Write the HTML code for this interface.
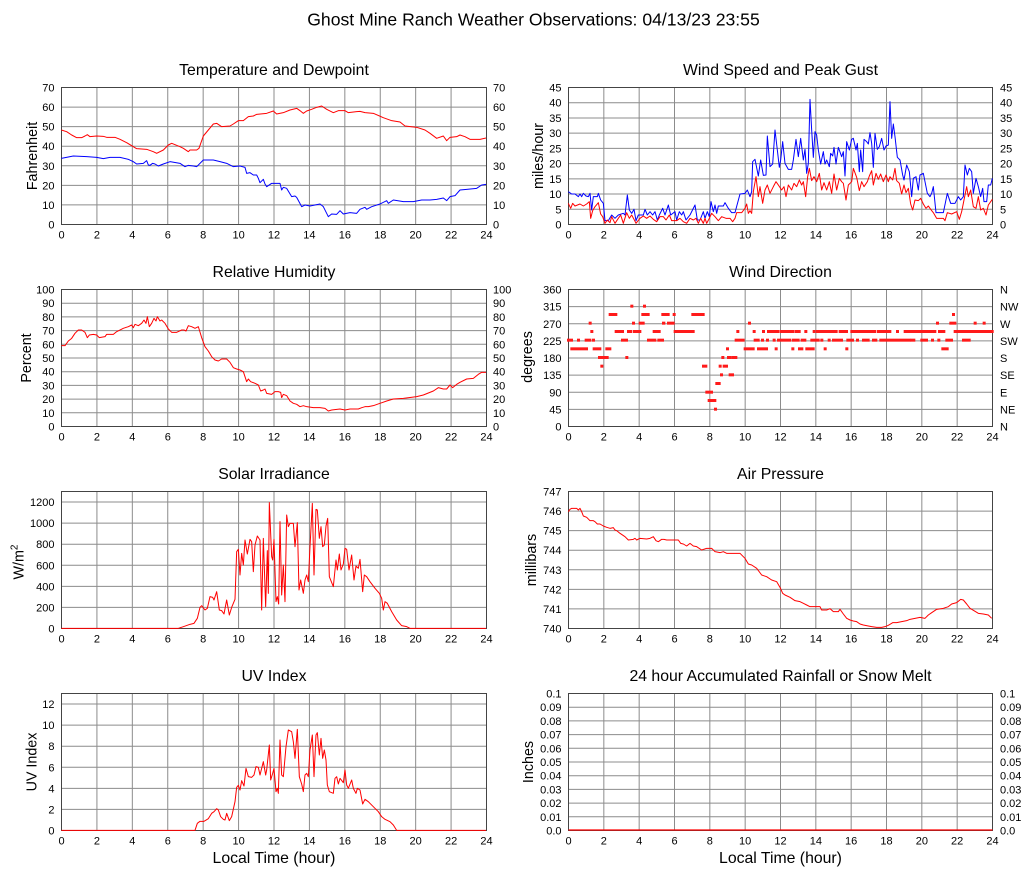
<!DOCTYPE html>
<html><head><meta charset="utf-8"><style>
html,body{margin:0;padding:0;background:#fff;}
svg{display:block;font-family:"Liberation Sans",Arial,sans-serif;}
.tk{font-size:11px;fill:#000;}
.ttl{font-size:15.8px;fill:#000;text-anchor:middle;}
.yl{font-size:14.3px;fill:#000;text-anchor:middle;}
.g{stroke:#8c8c8c;stroke-width:1;fill:none;}
.bx{stroke:#444;stroke-width:1;fill:none;}
.d{fill:none;stroke-width:1;vector-effect:non-scaling-stroke;stroke-linejoin:round;}
</style></head><body>
<svg width="1027" height="878" viewBox="0 0 1027 878" xmlns="http://www.w3.org/2000/svg">
<rect width="1027" height="878" fill="#fff"/>
<text x="533.5" y="25.7" style="font-size:17.6px" text-anchor="middle">Ghost Mine Ranch Weather Observations: 04/13/23 23:55</text>

<!-- ================= Row 0 Left: Temperature ================= -->
<text class="ttl" x="274" y="75">Temperature and Dewpoint</text>
<g class="g">
<path d="M96.92 87.5V224.5M132.33 87.5V224.5M167.75 87.5V224.5M203.17 87.5V224.5M238.58 87.5V224.5M274 87.5V224.5M309.42 87.5V224.5M344.83 87.5V224.5M380.25 87.5V224.5M415.67 87.5V224.5M451.08 87.5V224.5"/>
<path d="M61.5 204.93H486.5M61.5 185.36H486.5M61.5 165.79H486.5M61.5 146.21H486.5M61.5 126.64H486.5M61.5 107.07H486.5"/>
</g>
<rect class="bx" x="61.5" y="87.5" width="425" height="137"/>
<g class="tk" text-anchor="end">
<text x="54.5" y="228.5">0</text><text x="54.5" y="208.9">10</text><text x="54.5" y="189.4">20</text><text x="54.5" y="169.8">30</text><text x="54.5" y="150.2">40</text><text x="54.5" y="130.6">50</text><text x="54.5" y="111.1">60</text><text x="54.5" y="91.5">70</text>
</g>
<g class="tk" text-anchor="start">
<text x="493" y="228.5">0</text><text x="493" y="208.9">10</text><text x="493" y="189.4">20</text><text x="493" y="169.8">30</text><text x="493" y="150.2">40</text><text x="493" y="130.6">50</text><text x="493" y="111.1">60</text><text x="493" y="91.5">70</text>
</g>
<g class="tk" text-anchor="middle">
<text x="61.5" y="238.5">0</text><text x="96.92" y="238.5">2</text><text x="132.33" y="238.5">4</text><text x="167.75" y="238.5">6</text><text x="203.17" y="238.5">8</text><text x="238.58" y="238.5">10</text><text x="274" y="238.5">12</text><text x="309.42" y="238.5">14</text><text x="344.83" y="238.5">16</text><text x="380.25" y="238.5">18</text><text x="415.67" y="238.5">20</text><text x="451.08" y="238.5">22</text><text x="486.5" y="238.5">24</text>
</g>
<text class="yl" transform="translate(37,156) rotate(-90)">Fahrenheit</text>
<g transform="translate(0,50) scale(0.333333)">
<polyline class="d" stroke="#ff0000" points="184,240 200,245 215,255 230,263 245,263 255,258 262,254 270,260 290,258 310,259 320,262 345,262 360,268 380,278 400,290 410,296 440,298 460,305 470,310 490,300 505,285 515,280 540,290 550,295 565,305 570,300 590,300 597,295 610,258 625,240 640,222 650,220 665,230 690,228 700,222 715,212 730,212 745,200 760,198 770,193 800,190 820,183 830,192 850,188 870,180 890,175 900,182 910,190 920,183 935,178 950,172 965,168 980,178 1000,188 1015,182 1035,182 1045,188 1070,185 1080,184 1095,188 1120,190 1150,203 1175,212 1200,216 1215,228 1250,232 1275,240 1290,250 1310,265 1330,258 1340,272 1350,262 1370,260 1380,255 1395,260 1410,268 1440,268 1458,264"/>
<polyline class="d" stroke="#0000ff" points="184,325 220,318 260,320 290,322 310,326 330,322 360,322 385,328 400,335 410,342 430,340 440,332 445,345 450,346 458,340 465,342 475,348 490,342 510,335 540,340 555,350 565,346 580,348 590,350 610,330 640,330 660,335 680,340 700,350 720,348 735,352 740,370 750,368 760,375 770,375 775,385 780,398 790,388 795,402 800,410 815,400 840,400 845,420 850,412 860,415 875,440 885,438 890,442 905,470 915,465 930,468 945,465 960,462 970,470 985,500 995,492 1010,493 1020,482 1030,492 1050,488 1070,490 1080,478 1095,472 1100,478 1115,470 1140,462 1160,452 1165,460 1180,450 1210,455 1240,455 1265,450 1290,450 1310,448 1330,444 1340,452 1350,440 1365,437 1380,420 1400,418 1430,415 1445,405 1458,403"/>
</g>

<!-- ================= Row 0 Right: Wind Speed ================= -->
<text class="ttl" x="780.5" y="75">Wind Speed and Peak Gust</text>
<g class="g">
<path d="M603.83 87.5V224.5M639.17 87.5V224.5M674.5 87.5V224.5M709.83 87.5V224.5M745.17 87.5V224.5M780.5 87.5V224.5M815.83 87.5V224.5M851.17 87.5V224.5M886.5 87.5V224.5M921.83 87.5V224.5M957.17 87.5V224.5"/>
<path d="M568.5 209.28H992.5M568.5 194.06H992.5M568.5 178.83H992.5M568.5 163.61H992.5M568.5 148.39H992.5M568.5 133.17H992.5M568.5 117.94H992.5M568.5 102.72H992.5"/>
</g>
<rect class="bx" x="568.5" y="87.5" width="424" height="137"/>
<g class="tk" text-anchor="end">
<text x="561.5" y="228.5">0</text><text x="561.5" y="213.3">5</text><text x="561.5" y="198.1">10</text><text x="561.5" y="182.8">15</text><text x="561.5" y="167.6">20</text><text x="561.5" y="152.4">25</text><text x="561.5" y="137.2">30</text><text x="561.5" y="121.9">35</text><text x="561.5" y="106.7">40</text><text x="561.5" y="91.5">45</text>
</g>
<g class="tk" text-anchor="start">
<text x="1000" y="228.5">0</text><text x="1000" y="213.3">5</text><text x="1000" y="198.1">10</text><text x="1000" y="182.8">15</text><text x="1000" y="167.6">20</text><text x="1000" y="152.4">25</text><text x="1000" y="137.2">30</text><text x="1000" y="121.9">35</text><text x="1000" y="106.7">40</text><text x="1000" y="91.5">45</text>
</g>
<g class="tk" text-anchor="middle">
<text x="568.5" y="238.5">0</text><text x="603.83" y="238.5">2</text><text x="639.17" y="238.5">4</text><text x="674.5" y="238.5">6</text><text x="709.83" y="238.5">8</text><text x="745.17" y="238.5">10</text><text x="780.5" y="238.5">12</text><text x="815.83" y="238.5">14</text><text x="851.17" y="238.5">16</text><text x="886.5" y="238.5">18</text><text x="921.83" y="238.5">20</text><text x="957.17" y="238.5">22</text><text x="992.5" y="238.5">24</text>
</g>
<text class="yl" transform="translate(543,156) rotate(-90)">miles/hour</text>
<g transform="translate(510,50) scale(0.333333)">
<polyline class="d" stroke="#0000ff" points="175,425 185,432 195,432 205,440 210,432 215,440 220,430 228,438 235,440 240,430 245,480 250,440 262,440 265,430 272,450 280,460 285,512 295,512 305,495 315,505 325,495 340,490 345,495 352,435 358,480 365,490 372,478 378,512 385,495 400,495 405,478 412,495 420,485 428,495 435,485 442,510 448,495 458,475 465,495 475,465 482,495 495,485 500,510 508,485 515,495 520,485 528,510 540,495 555,465 562,510 570,510 580,485 585,505 592,485 598,500 603,455 610,485 615,465 620,490 625,468 640,468 645,458 655,475 665,488 675,488 690,432 705,430 712,420 720,440 725,425 728,335 735,328 745,378 752,330 760,376 768,375 772,258 780,350 788,342 795,240 802,300 808,352 812,330 818,275 825,340 835,358 845,358 850,330 858,268 865,320 872,265 880,330 885,298 890,370 895,340 900,148 905,240 910,322 915,245 920,255 925,300 932,342 940,305 945,342 950,330 958,350 962,310 968,318 972,292 978,342 985,292 995,320 1000,305 1005,378 1010,275 1018,300 1025,268 1030,265 1038,300 1042,280 1048,365 1052,300 1058,365 1062,268 1070,275 1075,282 1080,248 1085,280 1090,352 1095,250 1102,298 1108,290 1115,265 1122,300 1128,288 1135,285 1140,155 1145,265 1150,222 1155,260 1162,322 1170,330 1178,375 1182,390 1190,345 1198,365 1205,440 1210,385 1218,380 1225,420 1230,375 1240,370 1245,395 1252,430 1260,440 1265,430 1270,410 1278,488 1300,488 1312,430 1322,460 1335,460 1345,440 1352,450 1360,440 1365,345 1372,375 1378,355 1385,365 1390,430 1398,385 1405,410 1412,440 1418,415 1422,455 1430,455 1435,405 1442,405 1447,385"/>
<polyline class="d" stroke="#ff0000" points="175,460 182,475 188,460 195,468 210,462 220,468 230,462 238,455 242,505 248,482 255,470 265,458 272,492 278,500 285,520 292,510 300,518 305,500 315,520 325,505 332,495 340,520 350,488 358,505 365,495 372,508 378,520 390,505 400,498 410,505 420,498 430,508 440,515 450,500 460,500 468,510 478,495 485,512 500,512 510,505 520,515 530,520 540,505 550,510 558,505 565,520 572,505 580,520 585,505 590,520 598,505 605,490 615,500 625,512 635,500 648,505 660,505 668,515 675,505 680,488 695,488 705,475 710,462 715,490 720,482 725,490 730,425 738,380 745,440 750,410 758,460 765,420 772,405 780,430 790,410 798,395 805,405 815,420 822,410 828,440 835,405 845,420 852,400 860,410 868,390 875,405 880,395 887,440 893,380 898,355 905,392 912,380 920,395 928,370 935,420 942,398 950,420 958,395 965,430 972,372 980,420 988,385 995,395 1000,400 1008,450 1015,405 1025,395 1030,355 1040,382 1048,422 1055,395 1062,410 1072,395 1078,378 1085,362 1090,405 1098,370 1105,388 1112,372 1120,395 1128,375 1135,395 1140,380 1148,390 1155,355 1160,392 1168,400 1175,432 1182,405 1188,428 1195,415 1202,462 1208,480 1215,450 1225,452 1232,445 1240,462 1248,475 1255,468 1262,478 1270,488 1280,505 1300,505 1305,512 1312,488 1325,492 1340,485 1348,508 1355,485 1362,450 1370,410 1375,440 1382,420 1390,470 1398,475 1405,440 1412,480 1420,475 1428,495 1435,465 1447,448"/>
</g>

<!-- ================= Row 1 Left: RH ================= -->
<text class="ttl" x="274" y="277">Relative Humidity</text>
<g class="g">
<path d="M96.92 289.5V426.5M132.33 289.5V426.5M167.75 289.5V426.5M203.17 289.5V426.5M238.58 289.5V426.5M274 289.5V426.5M309.42 289.5V426.5M344.83 289.5V426.5M380.25 289.5V426.5M415.67 289.5V426.5M451.08 289.5V426.5"/>
<path d="M61.5 412.8H486.5M61.5 399.1H486.5M61.5 385.4H486.5M61.5 371.7H486.5M61.5 358H486.5M61.5 344.3H486.5M61.5 330.6H486.5M61.5 316.9H486.5M61.5 303.2H486.5"/>
</g>
<rect class="bx" x="61.5" y="289.5" width="425" height="137"/>
<g class="tk" text-anchor="end">
<text x="54.5" y="430.5">0</text><text x="54.5" y="416.8">10</text><text x="54.5" y="403.1">20</text><text x="54.5" y="389.4">30</text><text x="54.5" y="375.7">40</text><text x="54.5" y="362">50</text><text x="54.5" y="348.3">60</text><text x="54.5" y="334.6">70</text><text x="54.5" y="320.9">80</text><text x="54.5" y="307.2">90</text><text x="54.5" y="293.5">100</text>
</g>
<g class="tk" text-anchor="start">
<text x="493" y="430.5">0</text><text x="493" y="416.8">10</text><text x="493" y="403.1">20</text><text x="493" y="389.4">30</text><text x="493" y="375.7">40</text><text x="493" y="362">50</text><text x="493" y="348.3">60</text><text x="493" y="334.6">70</text><text x="493" y="320.9">80</text><text x="493" y="307.2">90</text><text x="493" y="293.5">100</text>
</g>
<g class="tk" text-anchor="middle">
<text x="61.5" y="440.5">0</text><text x="96.92" y="440.5">2</text><text x="132.33" y="440.5">4</text><text x="167.75" y="440.5">6</text><text x="203.17" y="440.5">8</text><text x="238.58" y="440.5">10</text><text x="274" y="440.5">12</text><text x="309.42" y="440.5">14</text><text x="344.83" y="440.5">16</text><text x="380.25" y="440.5">18</text><text x="415.67" y="440.5">20</text><text x="451.08" y="440.5">22</text><text x="486.5" y="440.5">24</text>
</g>
<text class="yl" transform="translate(31,358) rotate(-90)">Percent</text>
<g transform="translate(0,255) scale(0.333333)">
<polyline class="d" stroke="#ff0000" points="184,272 195,272 205,258 215,250 225,235 235,225 245,225 255,232 262,248 268,240 280,238 290,240 298,248 315,245 320,238 340,238 350,230 370,220 385,215 395,210 400,218 405,208 415,212 425,205 432,195 438,205 442,185 448,215 455,205 462,190 468,198 472,185 480,198 485,195 495,205 505,222 515,232 530,232 545,225 552,225 558,228 565,212 575,215 585,220 595,215 605,248 615,275 625,288 635,305 645,315 655,318 665,312 680,312 690,322 700,338 710,342 720,345 730,350 735,365 740,380 745,372 752,380 765,385 775,390 782,408 790,405 795,402 800,415 815,418 825,410 835,410 842,412 845,428 850,418 860,422 870,438 880,445 890,448 900,455 910,452 920,455 940,458 960,458 975,460 985,468 995,465 1020,462 1035,465 1050,462 1065,462 1075,462 1085,458 1095,455 1105,455 1120,452 1140,445 1160,438 1180,432 1210,430 1250,425 1270,420 1300,408 1315,398 1330,402 1340,402 1350,390 1358,398 1370,388 1380,382 1400,372 1420,370 1435,358 1445,352 1458,352"/>
</g>

<!-- ================= Row 1 Right: Wind Direction ================= -->
<text class="ttl" x="780.5" y="277">Wind Direction</text>
<g class="g">
<path d="M603.83 289.5V426.5M639.17 289.5V426.5M674.5 289.5V426.5M709.83 289.5V426.5M745.17 289.5V426.5M780.5 289.5V426.5M815.83 289.5V426.5M851.17 289.5V426.5M886.5 289.5V426.5M921.83 289.5V426.5M957.17 289.5V426.5"/>
<path d="M568.5 409.38H992.5M568.5 392.25H992.5M568.5 375.13H992.5M568.5 358H992.5M568.5 340.88H992.5M568.5 323.75H992.5M568.5 306.63H992.5"/>
</g>
<rect class="bx" x="568.5" y="289.5" width="424" height="137"/>
<g class="tk" text-anchor="end">
<text x="561.5" y="430.5">0</text><text x="561.5" y="413.4">45</text><text x="561.5" y="396.3">90</text><text x="561.5" y="379.1">135</text><text x="561.5" y="362">180</text><text x="561.5" y="344.9">225</text><text x="561.5" y="327.8">270</text><text x="561.5" y="310.6">315</text><text x="561.5" y="293.5">360</text>
</g>
<g class="tk" text-anchor="start">
<text x="1000" y="430.5">N</text><text x="1000" y="413.4">NE</text><text x="1000" y="396.3">E</text><text x="1000" y="379.1">SE</text><text x="1000" y="362">S</text><text x="1000" y="344.9">SW</text><text x="1000" y="327.8">W</text><text x="1000" y="310.6">NW</text><text x="1000" y="293.5">N</text>
</g>
<g class="tk" text-anchor="middle">
<text x="568.5" y="440.5">0</text><text x="603.83" y="440.5">2</text><text x="639.17" y="440.5">4</text><text x="674.5" y="440.5">6</text><text x="709.83" y="440.5">8</text><text x="745.17" y="440.5">10</text><text x="780.5" y="440.5">12</text><text x="815.83" y="440.5">14</text><text x="851.17" y="440.5">16</text><text x="886.5" y="440.5">18</text><text x="921.83" y="440.5">20</text><text x="957.17" y="440.5">22</text><text x="992.5" y="440.5">24</text>
</g>
<text class="yl" transform="translate(532,357) rotate(-90)">degrees</text>
<g transform="translate(510,280) scale(0.333333)" fill="#ff1a1a">
<rect x="171" y="176" width="18" height="9"/>
<rect x="181" y="202" width="53" height="9"/>
<rect x="201" y="176" width="9" height="9"/>
<rect x="224" y="176" width="20" height="9"/>
<rect x="236" y="125" width="9" height="9"/>
<rect x="241" y="150" width="9" height="9"/>
<rect x="246" y="176" width="9" height="9"/>
<rect x="248" y="202" width="26" height="9"/>
<rect x="264" y="228" width="32" height="9"/>
<rect x="271" y="254" width="9" height="9"/>
<rect x="286" y="202" width="18" height="9"/>
<rect x="296" y="99" width="26" height="9"/>
<rect x="314" y="150" width="28" height="9"/>
<rect x="333" y="176" width="21" height="9"/>
<rect x="346" y="228" width="9" height="9"/>
<rect x="351" y="150" width="15" height="9"/>
<rect x="361" y="74" width="9" height="9"/>
<rect x="366" y="125" width="9" height="9"/>
<rect x="368" y="150" width="26" height="9"/>
<rect x="386" y="125" width="18" height="9"/>
<rect x="399" y="74" width="9" height="9"/>
<rect x="394" y="99" width="25" height="9"/>
<rect x="411" y="176" width="28" height="9"/>
<rect x="428" y="150" width="24" height="9"/>
<rect x="442" y="176" width="20" height="9"/>
<rect x="454" y="99" width="25" height="9"/>
<rect x="456" y="125" width="10" height="9"/>
<rect x="471" y="125" width="23" height="9"/>
<rect x="488" y="99" width="9" height="9"/>
<rect x="491" y="150" width="63" height="9"/>
<rect x="544" y="99" width="40" height="9"/>
<rect x="576" y="254" width="16" height="9"/>
<rect x="586" y="332" width="23" height="9"/>
<rect x="593" y="357" width="26" height="9"/>
<rect x="612" y="383" width="9" height="9"/>
<rect x="616" y="306" width="16" height="9"/>
<rect x="626" y="254" width="9" height="9"/>
<rect x="630" y="280" width="9" height="9"/>
<rect x="634" y="228" width="9" height="9"/>
<rect x="638" y="254" width="16" height="9"/>
<rect x="648" y="202" width="9" height="9"/>
<rect x="651" y="228" width="13" height="9"/>
<rect x="656" y="280" width="16" height="9"/>
<rect x="664" y="228" width="18" height="9"/>
<rect x="674" y="176" width="30" height="9"/>
<rect x="679" y="150" width="9" height="9"/>
<rect x="701" y="202" width="33" height="9"/>
<rect x="714" y="125" width="9" height="9"/>
<rect x="728" y="150" width="9" height="9"/>
<rect x="731" y="176" width="18" height="9"/>
<rect x="741" y="202" width="18" height="9"/>
<rect x="753" y="176" width="9" height="9"/>
<rect x="756" y="150" width="9" height="9"/>
<rect x="759" y="202" width="15" height="9"/>
<rect x="768" y="176" width="9" height="9"/>
<rect x="771" y="150" width="28" height="9"/>
<rect x="788" y="176" width="9" height="9"/>
<rect x="794" y="202" width="9" height="9"/>
<rect x="798" y="150" width="9" height="9"/>
<rect x="801" y="176" width="43" height="9"/>
<rect x="808" y="150" width="44" height="9"/>
<rect x="844" y="202" width="9" height="9"/>
<rect x="846" y="176" width="23" height="9"/>
<rect x="853" y="150" width="19" height="9"/>
<rect x="864" y="202" width="16" height="9"/>
<rect x="872" y="176" width="17" height="9"/>
<rect x="883" y="150" width="9" height="9"/>
<rect x="886" y="202" width="28" height="9"/>
<rect x="901" y="176" width="28" height="9"/>
<rect x="908" y="150" width="9" height="9"/>
<rect x="918" y="150" width="58" height="9"/>
<rect x="931" y="176" width="9" height="9"/>
<rect x="941" y="202" width="9" height="9"/>
<rect x="953" y="176" width="9" height="9"/>
<rect x="966" y="176" width="33" height="9"/>
<rect x="974" y="150" width="9" height="9"/>
<rect x="986" y="150" width="28" height="9"/>
<rect x="1006" y="202" width="9" height="9"/>
<rect x="1009" y="176" width="23" height="9"/>
<rect x="1021" y="150" width="78" height="9"/>
<rect x="1038" y="176" width="9" height="9"/>
<rect x="1056" y="176" width="23" height="9"/>
<rect x="1086" y="176" width="16" height="9"/>
<rect x="1101" y="150" width="21" height="9"/>
<rect x="1108" y="176" width="94" height="9"/>
<rect x="1118" y="150" width="26" height="9"/>
<rect x="1158" y="150" width="9" height="9"/>
<rect x="1181" y="150" width="63" height="9"/>
<rect x="1201" y="176" width="15" height="9"/>
<rect x="1231" y="176" width="23" height="9"/>
<rect x="1241" y="150" width="38" height="9"/>
<rect x="1263" y="176" width="9" height="9"/>
<rect x="1278" y="125" width="9" height="9"/>
<rect x="1282" y="176" width="9" height="9"/>
<rect x="1284" y="150" width="22" height="9"/>
<rect x="1294" y="202" width="22" height="9"/>
<rect x="1306" y="176" width="23" height="9"/>
<rect x="1318" y="125" width="21" height="9"/>
<rect x="1326" y="99" width="9" height="9"/>
<rect x="1331" y="150" width="120" height="9"/>
<rect x="1356" y="176" width="26" height="9"/>
<rect x="1391" y="125" width="9" height="9"/>
<rect x="1418" y="125" width="9" height="9"/>
</g>

<!-- ================= Row 2 Left: Solar ================= -->
<text class="ttl" x="274" y="479">Solar Irradiance</text>
<g class="g">
<path d="M96.92 491.5V628.5M132.33 491.5V628.5M167.75 491.5V628.5M203.17 491.5V628.5M238.58 491.5V628.5M274 491.5V628.5M309.42 491.5V628.5M344.83 491.5V628.5M380.25 491.5V628.5M415.67 491.5V628.5M451.08 491.5V628.5"/>
<path d="M61.5 607.42H486.5M61.5 586.35H486.5M61.5 565.27H486.5M61.5 544.19H486.5M61.5 523.12H486.5M61.5 502.04H486.5"/>
</g>
<rect class="bx" x="61.5" y="491.5" width="425" height="137"/>
<g class="tk" text-anchor="end">
<text x="54.5" y="632.5">0</text><text x="54.5" y="611.4">200</text><text x="54.5" y="590.3">400</text><text x="54.5" y="569.3">600</text><text x="54.5" y="548.2">800</text><text x="54.5" y="527.1">1000</text><text x="54.5" y="506">1200</text>
</g>
<g class="tk" text-anchor="middle">
<text x="61.5" y="642.5">0</text><text x="96.92" y="642.5">2</text><text x="132.33" y="642.5">4</text><text x="167.75" y="642.5">6</text><text x="203.17" y="642.5">8</text><text x="238.58" y="642.5">10</text><text x="274" y="642.5">12</text><text x="309.42" y="642.5">14</text><text x="344.83" y="642.5">16</text><text x="380.25" y="642.5">18</text><text x="415.67" y="642.5">20</text><text x="451.08" y="642.5">22</text><text x="486.5" y="642.5">24</text>
</g>
<text class="yl" transform="translate(23.5,562) rotate(-90)">W/m<tspan style="font-size:10px" dy="-6">2</tspan></text>
<g transform="translate(0,460) scale(0.333333)">
<polyline class="d" stroke="#ff0000" points="184,505 535,505 550,500 570,493 582,490 592,475 600,442 605,437 615,450 622,445 630,410 638,412 642,420 650,395 658,450 665,452 672,462 680,420 688,465 695,442 705,418 710,275 715,268 720,345 725,280 730,315 735,240 742,282 750,238 755,245 760,335 765,255 772,228 780,240 785,450 790,235 797,440 802,272 805,400 808,128 815,290 818,300 822,238 828,425 832,410 836,432 840,185 845,405 850,315 855,425 860,165 865,200 870,190 880,190 885,260 892,188 897,390 902,360 910,400 915,360 920,345 925,365 930,260 937,130 942,345 948,148 952,150 958,235 963,200 968,260 973,255 978,198 983,175 988,350 1000,380 1008,300 1012,330 1018,282 1023,330 1030,312 1035,265 1040,268 1047,330 1055,285 1062,360 1068,318 1075,325 1080,298 1088,395 1093,345 1100,350 1110,365 1125,385 1138,400 1145,415 1150,450 1155,425 1162,430 1175,455 1190,480 1205,497 1220,500 1230,505 1458,505"/>
</g>

<!-- ================= Row 2 Right: Pressure ================= -->
<text class="ttl" x="780.5" y="479">Air Pressure</text>
<g class="g">
<path d="M603.83 491.5V628.5M639.17 491.5V628.5M674.5 491.5V628.5M709.83 491.5V628.5M745.17 491.5V628.5M780.5 491.5V628.5M815.83 491.5V628.5M851.17 491.5V628.5M886.5 491.5V628.5M921.83 491.5V628.5M957.17 491.5V628.5"/>
<path d="M568.5 608.93H992.5M568.5 589.36H992.5M568.5 569.79H992.5M568.5 550.21H992.5M568.5 530.64H992.5M568.5 511.07H992.5"/>
</g>
<rect class="bx" x="568.5" y="491.5" width="424" height="137"/>
<g class="tk" text-anchor="end">
<text x="561.5" y="632.5">740</text><text x="561.5" y="612.9">741</text><text x="561.5" y="593.4">742</text><text x="561.5" y="573.8">743</text><text x="561.5" y="554.2">744</text><text x="561.5" y="534.6">745</text><text x="561.5" y="515.1">746</text><text x="561.5" y="495.5">747</text>
</g>
<g class="tk" text-anchor="middle">
<text x="568.5" y="642.5">0</text><text x="603.83" y="642.5">2</text><text x="639.17" y="642.5">4</text><text x="674.5" y="642.5">6</text><text x="709.83" y="642.5">8</text><text x="745.17" y="642.5">10</text><text x="780.5" y="642.5">12</text><text x="815.83" y="642.5">14</text><text x="851.17" y="642.5">16</text><text x="886.5" y="642.5">18</text><text x="921.83" y="642.5">20</text><text x="957.17" y="642.5">22</text><text x="992.5" y="642.5">24</text>
</g>
<text class="yl" transform="translate(536,560) rotate(-90)">millibars</text>
<g transform="translate(510,460) scale(0.333333)">
<polyline class="d" stroke="#ff0000" points="175,155 180,148 185,145 200,145 205,150 210,145 215,155 220,168 230,172 240,182 250,182 255,185 262,192 270,192 280,198 290,202 300,205 310,203 315,210 320,212 330,220 345,230 355,240 370,238 375,235 380,240 390,235 410,237 420,235 430,230 438,242 445,245 455,238 462,238 470,240 505,240 512,250 520,252 530,258 540,250 550,258 560,260 575,270 590,265 605,265 615,275 630,278 640,275 650,280 665,280 690,280 700,290 705,295 715,312 725,315 740,325 755,345 770,350 785,360 800,365 810,382 818,400 825,405 840,412 855,422 870,425 880,430 890,435 900,440 915,440 930,440 935,450 950,450 960,446 970,455 985,455 990,448 1000,462 1010,475 1020,480 1030,483 1040,485 1050,492 1060,495 1075,498 1085,500 1100,502 1115,502 1125,500 1135,496 1148,488 1160,488 1175,485 1190,482 1200,478 1215,475 1230,472 1245,475 1255,465 1265,458 1280,448 1300,445 1315,440 1325,432 1340,428 1352,418 1360,420 1370,432 1380,445 1392,452 1405,460 1420,462 1435,465 1445,475"/>
</g>

<!-- ================= Row 3 Left: UV ================= -->
<text class="ttl" x="274" y="681">UV Index</text>
<g class="g">
<path d="M96.92 693.5V830.5M132.33 693.5V830.5M167.75 693.5V830.5M203.17 693.5V830.5M238.58 693.5V830.5M274 693.5V830.5M309.42 693.5V830.5M344.83 693.5V830.5M380.25 693.5V830.5M415.67 693.5V830.5M451.08 693.5V830.5"/>
<path d="M61.5 809.42H486.5M61.5 788.35H486.5M61.5 767.27H486.5M61.5 746.19H486.5M61.5 725.12H486.5M61.5 704.04H486.5"/>
</g>
<rect class="bx" x="61.5" y="693.5" width="425" height="137"/>
<g class="tk" text-anchor="end">
<text x="54.5" y="834.5">0</text><text x="54.5" y="813.4">2</text><text x="54.5" y="792.3">4</text><text x="54.5" y="771.3">6</text><text x="54.5" y="750.2">8</text><text x="54.5" y="729.1">10</text><text x="54.5" y="708">12</text>
</g>
<g class="tk" text-anchor="middle">
<text x="61.5" y="844.5">0</text><text x="96.92" y="844.5">2</text><text x="132.33" y="844.5">4</text><text x="167.75" y="844.5">6</text><text x="203.17" y="844.5">8</text><text x="238.58" y="844.5">10</text><text x="274" y="844.5">12</text><text x="309.42" y="844.5">14</text><text x="344.83" y="844.5">16</text><text x="380.25" y="844.5">18</text><text x="415.67" y="844.5">20</text><text x="451.08" y="844.5">22</text><text x="486.5" y="844.5">24</text>
</g>
<text class="yl" transform="translate(36.7,762) rotate(-90)">UV Index</text>
<text class="ttl" x="274" y="863">Local Time (hour)</text>
<g transform="translate(0,660) scale(0.333333)">
<polyline class="d" stroke="#ff0000" points="184,511 585,511 592,490 600,484 612,484 625,476 635,460 642,455 650,446 655,450 662,470 670,478 675,480 680,460 688,482 695,470 705,425 710,382 715,376 720,390 725,362 732,378 738,325 745,350 755,352 762,345 768,320 775,322 780,345 790,305 797,345 800,330 808,255 812,360 818,340 822,325 828,395 832,385 835,400 840,240 845,345 850,350 858,260 865,210 875,215 880,245 885,295 892,208 898,350 905,372 910,395 915,345 920,340 925,350 930,270 937,225 942,350 948,225 952,218 958,285 963,235 968,295 973,270 978,300 982,375 988,395 1000,400 1005,355 1010,350 1015,372 1020,355 1030,368 1035,330 1040,375 1045,385 1055,360 1060,385 1068,400 1072,385 1080,390 1088,432 1095,418 1105,425 1120,440 1135,455 1145,470 1155,478 1170,485 1180,495 1190,511 1458,511"/>
</g>

<!-- ================= Row 3 Right: Rain ================= -->
<text class="ttl" x="780.5" y="681">24 hour Accumulated Rainfall or Snow Melt</text>
<g class="g">
<path d="M603.83 693.5V830.5M639.17 693.5V830.5M674.5 693.5V830.5M709.83 693.5V830.5M745.17 693.5V830.5M780.5 693.5V830.5M815.83 693.5V830.5M851.17 693.5V830.5M886.5 693.5V830.5M921.83 693.5V830.5M957.17 693.5V830.5"/>
<path d="M568.5 816.8H992.5M568.5 803.1H992.5M568.5 789.4H992.5M568.5 775.7H992.5M568.5 762H992.5M568.5 748.3H992.5M568.5 734.6H992.5M568.5 720.9H992.5M568.5 707.2H992.5"/>
</g>
<rect class="bx" x="568.5" y="693.5" width="424" height="137"/>
<g class="tk" text-anchor="end">
<text x="561.5" y="834.5">0.0</text><text x="561.5" y="820.8">0.01</text><text x="561.5" y="807.1">0.02</text><text x="561.5" y="793.4">0.03</text><text x="561.5" y="779.7">0.04</text><text x="561.5" y="766">0.05</text><text x="561.5" y="752.3">0.06</text><text x="561.5" y="738.6">0.07</text><text x="561.5" y="724.9">0.08</text><text x="561.5" y="711.2">0.09</text><text x="561.5" y="697.5">0.1</text>
</g>
<g class="tk" text-anchor="start">
<text x="1000" y="834.5">0.0</text><text x="1000" y="820.8">0.01</text><text x="1000" y="807.1">0.02</text><text x="1000" y="793.4">0.03</text><text x="1000" y="779.7">0.04</text><text x="1000" y="766">0.05</text><text x="1000" y="752.3">0.06</text><text x="1000" y="738.6">0.07</text><text x="1000" y="724.9">0.08</text><text x="1000" y="711.2">0.09</text><text x="1000" y="697.5">0.1</text>
</g>
<g class="tk" text-anchor="middle">
<text x="568.5" y="844.5">0</text><text x="603.83" y="844.5">2</text><text x="639.17" y="844.5">4</text><text x="674.5" y="844.5">6</text><text x="709.83" y="844.5">8</text><text x="745.17" y="844.5">10</text><text x="780.5" y="844.5">12</text><text x="815.83" y="844.5">14</text><text x="851.17" y="844.5">16</text><text x="886.5" y="844.5">18</text><text x="921.83" y="844.5">20</text><text x="957.17" y="844.5">22</text><text x="992.5" y="844.5">24</text>
</g>
<text class="yl" transform="translate(533,762) rotate(-90)">Inches</text>
<text class="ttl" x="780.5" y="863">Local Time (hour)</text>
<path d="M568.5 830H992.5" stroke="#ff0000" stroke-width="1.2" fill="none"/>
</svg>
</body></html>
